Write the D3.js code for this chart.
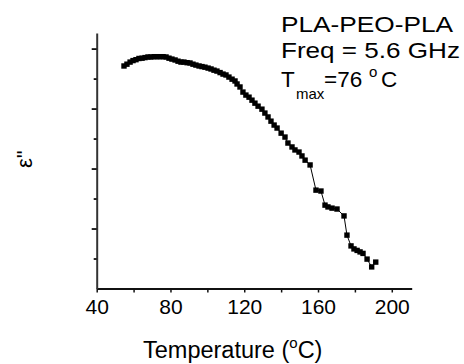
<!DOCTYPE html>
<html>
<head>
<meta charset="utf-8">
<script src="https://cdn.jsdelivr.net/npm/d3@7"></script>
<style>
  body { margin: 0; background: #fff; }
  svg { display: block; font-family: "Liberation Sans", Arial, sans-serif; }
</style>
</head>
<body>
<svg id="svg" width="464" height="364"></svg>
<script>
// temperature (C) and loss eps'' (arbitrary units)
var temp = [54.8, 56.4, 58.1, 59.7, 61.3, 62.9, 64.6, 66.2, 67.8, 69.4,
            71.1, 72.7, 74.3, 76.0, 77.6, 79.2, 80.8, 82.5, 84.1, 85.7,
            87.3, 89.0, 90.6, 92.2, 93.8, 95.5, 97.1, 98.7, 100.4, 102.0,
            103.6, 105.2, 106.9, 108.5, 110.1, 111.7, 113.4, 115.0, 116.1, 117.7,
            119.3, 120.9, 122.6, 124.2, 125.8, 127.5, 129.6, 131.2, 132.9, 134.5,
            136.2, 137.8, 140.0, 142.1, 143.7, 145.9, 147.5, 149.7, 151.3, 153.0,
            155.7, 158.9, 161.6, 163.8, 165.4, 167.6, 170.3, 174.1, 175.7, 177.9,
            179.5, 181.2, 182.8, 184.4, 186.6, 189.1, 191.3];
var loss = [7.42, 7.48, 7.55, 7.60, 7.63, 7.67, 7.68, 7.70, 7.72, 7.72,
            7.73, 7.73, 7.73, 7.73, 7.72, 7.68, 7.65, 7.62, 7.58, 7.55,
            7.55, 7.53, 7.52, 7.48, 7.45, 7.42, 7.40, 7.38, 7.35, 7.32,
            7.28, 7.25, 7.20, 7.15, 7.12, 7.05, 6.98, 6.92, 6.82, 6.72,
            6.55, 6.45, 6.38, 6.28, 6.18, 6.08, 5.98, 5.85, 5.72, 5.58,
            5.45, 5.35, 5.18, 5.05, 4.85, 4.72, 4.62, 4.55, 4.42, 4.28,
            4.12, 3.28, 3.25, 2.78, 2.72, 2.68, 2.65, 2.42, 1.78, 1.42,
            1.32, 1.27, 1.22, 1.17, 0.98, 0.72, 0.88];
var xTicks = [40, 60, 80, 100, 120, 140, 160, 180, 200];
var xLabels = [40, 80, 120, 160, 200];
var yTicks = [1, 2, 3, 4, 5, 6, 7, 8];
var notes = ["PLA-PEO-PLA", "Freq = 5.6 GHz"];
var noteWidths = [172, 179];

var data = [];
for (var i = 0; i < temp.length; i++) {
    data.push([temp[i], loss[i]]);
}

var svg = d3.select("#svg");
var x = d3.scaleLinear().domain([40, 210.8]).range([96.7, 411.7]);
var y = d3.scaleLinear().domain([0, 8.52]).range([288.5, 33]);

// x axis
var xAxis = svg.append("g")
    .attr("transform", "translate(0,288.5)")
    .call(d3.axisBottom(x).tickValues(xTicks).tickSize(4).tickSizeOuter(0)
          .tickFormat(function(d) { return xLabels.indexOf(d) >= 0 ? d : ""; }));
xAxis.select(".domain").attr("stroke", "#111").attr("stroke-width", 2);
xAxis.selectAll(".tick line").attr("stroke", "#111").attr("stroke-width", 1.5);
xAxis.selectAll(".tick text")
    .attr("y", 25).attr("dy", 0)
    .attr("font-size", 21).attr("fill", "#000")
    .attr("font-family", "Liberation Sans, Arial, sans-serif");

// y axis, no labels
var yAxis = svg.append("g")
    .attr("transform", "translate(96.7,0)")
    .call(d3.axisLeft(y).tickValues(yTicks).tickSizeOuter(0).tickFormat(""));
yAxis.select(".domain").attr("stroke", "#333").attr("stroke-width", 2);
yAxis.selectAll(".tick line")
    .attr("stroke", "#111").attr("stroke-width", 1.8)
    .attr("x2", function(d) { return d % 2 === 0 ? -5 : -3; });

// line + square markers
var line = d3.line().x(function(d) { return x(d[0]); }).y(function(d) { return y(d[1]); });
svg.append("path")
    .datum(data)
    .attr("d", line)
    .attr("fill", "none")
    .attr("stroke", "#000")
    .attr("stroke-width", 1);
svg.selectAll("rect.pt").data(data).enter().append("rect")
    .attr("class", "pt")
    .attr("x", function(d) { return x(d[0]) - 2.7; })
    .attr("y", function(d) { return y(d[1]) - 2.7; })
    .attr("width", 5.4)
    .attr("height", 5.4)
    .attr("fill", "#000");

// axis titles
var xt = svg.append("text")
    .attr("x", 143).attr("y", 358)
    .attr("font-size", 23.5).attr("fill", "#000");
xt.append("tspan").text("Temperature (");
xt.append("tspan").attr("font-size", 15).attr("dy", -10).text("o");
xt.append("tspan").attr("dy", 10).text("C)");

svg.append("text")
    .attr("transform", "translate(32,168) rotate(-90)")
    .attr("font-size", 22).attr("fill", "#000")
    .text("ε\"");

// annotation
svg.selectAll("text.note").data(notes).enter().append("text")
    .attr("class", "note")
    .attr("x", 281)
    .attr("y", function(d, i) { return 32.3 + i * 26; })
    .attr("font-size", 22.5).attr("fill", "#000")
    .attr("textLength", function(d, i) { return noteWidths[i]; })
    .attr("lengthAdjust", "spacingAndGlyphs")
    .text(function(d) { return d; });
var tm = svg.append("text").attr("x", 281).attr("y", 87.3)
    .attr("font-size", 22.5).attr("fill", "#000");
tm.append("tspan").text("T");
tm.append("tspan").attr("x", 296).attr("dy", 12).attr("font-size", 15).text("max");
tm.append("tspan").attr("x", 324).attr("dy", -12).text("=76");
tm.append("tspan").attr("x", 369).attr("dy", -10).attr("font-size", 15).text("o");
tm.append("tspan").attr("x", 381).attr("dy", 10).text("C");
</script>
</body>
</html>
